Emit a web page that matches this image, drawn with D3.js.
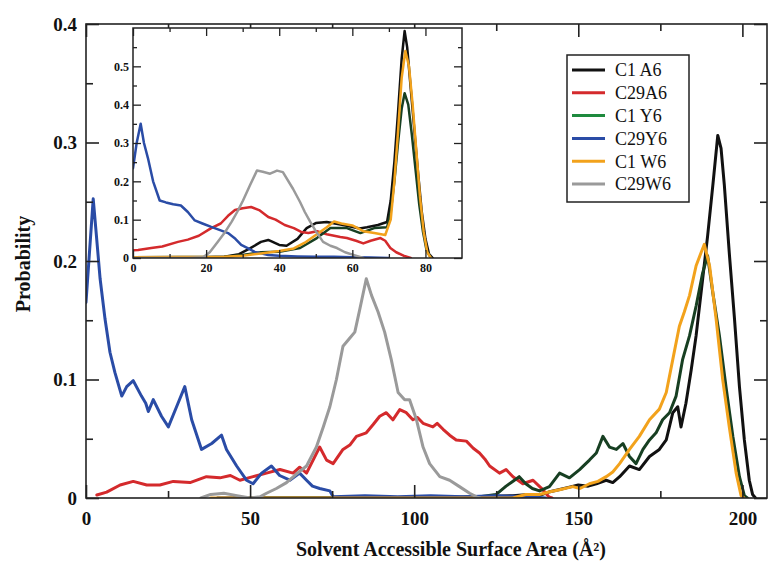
<!DOCTYPE html>
<html><head><meta charset="utf-8">
<script src="https://cdn.jsdelivr.net/npm/d3@7"></script>
<style>body{margin:0;background:#fff}</style>
</head><body>
<svg id="c" width="768" height="562"></svg>
<script>
// ---------- DATA ----------
const seriesNames = ["C1 A6", "C29A6", "C1 Y6", "C29Y6", "C1 W6", "C29W6"];
const seriesColors = ["#111111", "#d42a2c", "#1e8a3e", "#2a4ca6", "#f2a21c", "#9a9a9a"];
const plotColors   = ["#111111", "#d42a2c", "#173f22", "#2a4ca6", "#f2a21c", "#9a9a9a"];

const xTicksMain = [0, 50, 100, 150, 200];
const xMinorMain = [25, 75, 125, 175];
const yTicksMain = [0, 0.1, 0.2, 0.3, 0.4];
const yMinorMain = [0.05, 0.15, 0.25, 0.35];
const xTicksInset = [0, 20, 40, 60, 80];
const xMinorInset = [10, 30, 50, 70];
const yTicksInset = [0, 0.1, 0.2, 0.3, 0.4, 0.5];
const yMinorInset = [0.05, 0.15, 0.25, 0.35, 0.45, 0.55];

// main panel: [SASA, probability]
const mainC1A6 = [[40,0],[100,0],[120,0.001],[130,0.002],[135,0.003],[138,0.002],[141,0.005],[144,0.007],[147,0.009],[150,0.011],[153,0.01],[155.5,0.012],[158.5,0.015],[160.5,0.013],[162.6,0.018],[165.6,0.027],[168.6,0.024],[171.7,0.035],[174.7,0.041],[176.8,0.049],[178.8,0.072],[180.3,0.077],[181.3,0.06],[182.8,0.08],[184.4,0.108],[185.9,0.137],[187.9,0.185],[189.4,0.221],[191,0.264],[192.5,0.306],[193.5,0.295],[194.5,0.264],[196,0.207],[197.6,0.151],[199.1,0.094],[200.6,0.049],[202.1,0.015],[203.1,0.003],[204,0]];
const mainC29A6 = [[3.3,0.0025],[6.3,0.005],[10.4,0.011],[14.4,0.014],[18.5,0.011],[22.5,0.011],[26.6,0.014],[31.7,0.013],[36.7,0.018],[40.8,0.017],[44,0.019],[46.9,0.015],[50.9,0.018],[55,0.021],[59.1,0.024],[63.1,0.021],[65.1,0.026],[67.2,0.021],[71.2,0.043],[73.3,0.032],[75.3,0.029],[78.3,0.041],[80.5,0.045],[82.4,0.052],[85.4,0.055],[87.5,0.062],[89.5,0.069],[91.5,0.072],[93.5,0.066],[95.6,0.0746],[97.6,0.072],[99.6,0.066],[101,0.068],[102.7,0.063],[105.7,0.06],[107,0.063],[108.8,0.058],[110.8,0.053],[112.8,0.049],[115.9,0.048],[118,0.042],[119.9,0.038],[121.5,0.033],[123,0.027],[126,0.021],[128,0.024],[130.1,0.018],[133.1,0.012],[136.2,0.015],[139.2,0.007],[141,0.001],[142,0]];
const mainC1Y6 = [[45,0],[110,0],[120,0.001],[125,0.003],[128,0.01],[130,0.014],[132,0.018],[134,0.012],[136,0.008],[138.2,0.006],[141.2,0.0096],[144.3,0.021],[147.3,0.017],[150.4,0.024],[153.4,0.032],[155.5,0.038],[157.5,0.052],[159.5,0.043],[161.6,0.041],[163.6,0.046],[165.6,0.035],[167.6,0.029],[169.7,0.041],[171.7,0.049],[173.7,0.055],[175.7,0.066],[177.8,0.072],[179.8,0.086],[181.8,0.117],[183.9,0.137],[185.9,0.162],[187.9,0.19],[189.4,0.2045],[191,0.173],[193,0.137],[195,0.094],[197.1,0.052],[199.1,0.018],[200.6,0.002],[201.5,0]];
const mainC29Y6 = [[0,0.165],[1.2,0.213],[2.2,0.2525],[3,0.227],[4.3,0.185],[5.8,0.151],[7.3,0.123],[8.8,0.106],[10.9,0.086],[12.4,0.094],[14.4,0.099],[16.9,0.086],[18.2,0.08],[19,0.073],[20.5,0.083],[23,0.069],[25.1,0.06],[27.6,0.077],[30.1,0.094],[32.2,0.066],[35.2,0.041],[38.3,0.046],[41.3,0.053],[42.8,0.041],[45.9,0.027],[48.9,0.015],[50.9,0.012],[53.5,0.021],[56.5,0.027],[59,0.019],[62.1,0.015],[65.1,0.021],[67.2,0.015],[69,0.01],[71.2,0.008],[74.3,0.006],[75.3,0.001],[85,0.002],[95,0.001],[105,0.002],[115,0.001],[125,0.002],[135,0.001],[140,0]];
const mainC1W6 = [[38,0],[130,0],[134,0.003],[138.2,0.003],[141,0.005],[144.3,0.007],[148.3,0.0096],[150.5,0.008],[153.4,0.012],[156,0.014],[158.5,0.018],[160.5,0.022],[162.6,0.029],[165.6,0.041],[168.6,0.052],[171.7,0.066],[174.7,0.075],[176.8,0.089],[178.8,0.117],[180.8,0.145],[182.3,0.157],[183.9,0.171],[185.9,0.196],[187.4,0.207],[188.4,0.214],[190,0.196],[192,0.151],[194,0.1],[196,0.06],[198.1,0.021],[199.6,0.002],[200.5,0]];
const mainC29W6 = [[35,0],[38,0.003],[42,0.004],[46,0.002],[50,0],[53,0.001],[55,0.004],[58,0.008],[61.1,0.013],[64,0.02],[67.2,0.027],[70.2,0.043],[72.3,0.06],[74.3,0.077],[76.3,0.1],[78.3,0.128],[80.4,0.135],[81.9,0.14],[83.4,0.159],[85.4,0.185],[87,0.171],[89,0.157],[91,0.14],[93,0.117],[95.1,0.089],[97.1,0.083],[98.6,0.083],[100.7,0.066],[102.7,0.043],[104.7,0.029],[107.8,0.018],[110.8,0.015],[113.8,0.0096],[116.9,0.004],[119,0.001],[120,0]];

// inset panel
const insetC1A6 = [[0,0.002],[10,0.001],[20,0.002],[25,0.003],[29,0.01],[32,0.025],[35,0.042],[37,0.047],[40,0.034],[42,0.032],[45,0.05],[47.5,0.078],[50,0.091],[53,0.094],[57.5,0.086],[62,0.077],[64,0.08],[67,0.086],[69.5,0.094],[70.5,0.15],[71.5,0.25],[72.5,0.38],[73.5,0.52],[74.3,0.592],[75,0.55],[76,0.44],[77,0.33],[78,0.22],[79,0.12],[80,0.05],[81,0.01],[82,0]];
const insetC29A6 = [[0,0.02],[1.4,0.021],[5,0.026],[8,0.03],[12.3,0.042],[15,0.048],[18,0.058],[21.4,0.078],[24,0.09],[26,0.11],[27.9,0.125],[30,0.13],[32.3,0.133],[34.5,0.125],[37,0.107],[39,0.1],[41.5,0.086],[44,0.078],[46,0.068],[48,0.065],[50.3,0.07],[53,0.062],[56.7,0.055],[58.5,0.052],[61,0.045],[63,0.038],[65,0.045],[67.7,0.052],[69,0.045],[70.4,0.026],[72,0.015],[74,0.006],[76,0]];
const insetC1Y6 = [[0,0.002],[25,0.003],[30,0.008],[35,0.015],[40,0.016],[45.7,0.026],[50.3,0.052],[54,0.078],[58.5,0.078],[62.2,0.065],[66,0.078],[69.5,0.08],[70.5,0.12],[71.5,0.2],[72.5,0.3],[73.5,0.39],[74.3,0.43],[75.3,0.4],[76.3,0.32],[77.3,0.23],[78.3,0.14],[79.3,0.07],[80.3,0.02],[81.5,0]];
const insetC29Y6 = [[0,0.234],[1,0.3],[2.1,0.35],[3,0.3],[4.1,0.26],[5.5,0.2],[7.3,0.15],[9,0.145],[11,0.14],[13.1,0.137],[15,0.12],[16.9,0.098],[19,0.09],[21.4,0.081],[24,0.072],[26,0.065],[28,0.05],[29.6,0.034],[31.5,0.025],[33.3,0.016],[37,0.008],[40,0.006],[45,0.004],[50,0.003],[55,0.003],[60,0.002],[65,0.001],[70,0]];
const insetC1W6 = [[0,0.002],[25,0.003],[30,0.006],[35,0.012],[40,0.018],[44,0.025],[47,0.04],[50,0.06],[53,0.08],[55,0.095],[57,0.09],[60,0.085],[63,0.07],[66,0.065],[69,0.06],[70.5,0.1],[71.5,0.2],[72.5,0.33],[73.5,0.47],[74.5,0.54],[75.5,0.5],[76.5,0.4],[77.5,0.28],[78.5,0.16],[79.5,0.07],[80.5,0.015],[81.5,0]];
const insetC29W6 = [[0,0],[15,0],[19.2,0.002],[21,0.015],[23,0.04],[25,0.065],[27,0.095],[28.5,0.12],[30.1,0.15],[32,0.19],[33.9,0.228],[35.5,0.225],[37.5,0.22],[39.4,0.228],[41,0.224],[43.8,0.18],[45.7,0.146],[47,0.12],[48.5,0.094],[50,0.07],[52,0.042],[54,0.032],[55.8,0.026],[58,0.015],[60.3,0.008],[63,0]];

const mainSeries = [mainC1A6, mainC29A6, mainC1Y6, mainC29Y6, mainC1W6, mainC29W6];
const insetSeries = [insetC1A6, insetC29A6, insetC1Y6, insetC29Y6, insetC1W6, insetC29W6];

// ---------- DRAW ----------
const svg = d3.select("#c");
const FONT = "'Liberation Serif','DejaVu Serif',serif";

function panel(g, xs, ys, data, opt) {
  const [x0, x1] = xs.range();
  const [y1, y0] = ys.range();
  const id = opt.id;
  svg.append("defs").append("clipPath").attr("id", id)
    .append("rect").attr("x", x0).attr("y", y0).attr("width", x1 - x0).attr("height", y1 - y0);
  g.append("rect").attr("x", x0).attr("y", y0).attr("width", x1 - x0).attr("height", y1 - y0)
    .attr("fill", "#fff");

  const line = d3.line().x(d => xs(d[0])).y(d => ys(d[1]));
  const lg = g.append("g").attr("clip-path", `url(#${id})`);
  data.forEach((s, i) => {
    lg.append("path").datum(s).attr("d", line).attr("fill", "none")
      .attr("stroke", plotColors[i]).attr("stroke-width", opt.lw)
      .attr("stroke-linejoin", "round").attr("stroke-linecap", "round");
  });

  const fmt = d => d === 0 ? "0" : (Number.isInteger(d) ? String(d) : d3.format(".1f")(d));
  const style = sel => {
    sel.select(".domain").remove();
    sel.selectAll("line").attr("stroke", "#222").attr("stroke-width", opt.tw);
    sel.selectAll("text").attr("font-family", FONT).attr("font-weight", "bold")
      .attr("font-size", opt.fs).attr("fill", "#111");
  };
  g.append("g").attr("transform", `translate(0,${y1})`)
    .call(d3.axisBottom(xs).tickValues(opt.xt).tickSize(-opt.maj).tickPadding(opt.xpad).tickFormat(fmt)).call(style);
  g.append("g").attr("transform", `translate(${x0},0)`)
    .call(d3.axisLeft(ys).tickValues(opt.yt).tickSize(-opt.maj).tickPadding(opt.ypad).tickFormat(fmt)).call(style);
  g.append("g").attr("transform", `translate(0,${y1})`)
    .call(d3.axisBottom(xs).tickValues(opt.xm).tickSize(-opt.min).tickFormat("")).call(style);
  g.append("g").attr("transform", `translate(${x0},0)`)
    .call(d3.axisLeft(ys).tickValues(opt.ym).tickSize(-opt.min).tickFormat("")).call(style);
  g.append("g").attr("transform", `translate(0,${y0})`)
    .call(d3.axisTop(xs).tickValues(opt.xt).tickSize(-opt.maj).tickFormat("")).call(style);
  g.append("g").attr("transform", `translate(0,${y0})`)
    .call(d3.axisTop(xs).tickValues(opt.xm).tickSize(-opt.min).tickFormat("")).call(style);
  g.append("g").attr("transform", `translate(${x1},0)`)
    .call(d3.axisRight(ys).tickValues(opt.yt).tickSize(-opt.maj).tickFormat("")).call(style);
  g.append("g").attr("transform", `translate(${x1},0)`)
    .call(d3.axisRight(ys).tickValues(opt.ym).tickSize(-opt.min).tickFormat("")).call(style);

  g.append("rect").attr("x", x0).attr("y", y0).attr("width", x1 - x0).attr("height", y1 - y0)
    .attr("fill", "none").attr("stroke", "#222").attr("stroke-width", opt.fw);
}

// main
const x = d3.scaleLinear().domain([0, 207.5]).range([86, 767]);
const y = d3.scaleLinear().domain([0, 0.4]).range([498, 24]);
panel(svg.append("g"), x, y, mainSeries, {
  id: "clipMain", lw: 3, tw: 1.6, fw: 1.6, fs: 19, maj: 13, min: 7, xpad: 14, ypad: 9,
  xt: xTicksMain, xm: xMinorMain, yt: yTicksMain, ym: yMinorMain
});

// inset
const xi = d3.scaleLinear().domain([0, 90]).range([133, 462]);
const yi = d3.scaleLinear().domain([0, 0.6]).range([258, 28]);
panel(svg.append("g"), xi, yi, insetSeries, {
  id: "clipInset", lw: 2.5, tw: 1.3, fw: 1.5, fs: 12, maj: 8, min: 4, xpad: 5, ypad: 4,
  xt: xTicksInset, xm: xMinorInset, yt: yTicksInset, ym: yMinorInset
});

// axis titles
svg.append("text").attr("transform", "translate(30,264) rotate(-90)")
  .attr("text-anchor", "middle").attr("font-family", FONT).attr("font-weight", "bold")
  .attr("font-size", 20).attr("fill", "#111").text("Probability");
svg.append("text").attr("x", 451).attr("y", 556)
  .attr("text-anchor", "middle").attr("font-family", FONT).attr("font-weight", "bold")
  .attr("font-size", 20).attr("fill", "#111").text("Solvent Accessible Surface Area (Å²)");

// legend
const lg = svg.append("g");
lg.append("rect").attr("x", 567).attr("y", 55).attr("width", 122).attr("height", 147)
  .attr("fill", "#fff").attr("stroke", "#222").attr("stroke-width", 1.5);
const ly = d3.scalePoint().domain(seriesNames).range([70, 184]);
seriesNames.forEach((n, i) => {
  lg.append("line").attr("x1", 572).attr("x2", 605).attr("y1", ly(n)).attr("y2", ly(n))
    .attr("stroke", seriesColors[i]).attr("stroke-width", 3);
  lg.append("text").attr("x", 615).attr("y", ly(n)).attr("dy", "0.35em")
    .attr("font-family", FONT).attr("font-size", 18).attr("fill", "#111").text(n);
});
</script></body></html>
